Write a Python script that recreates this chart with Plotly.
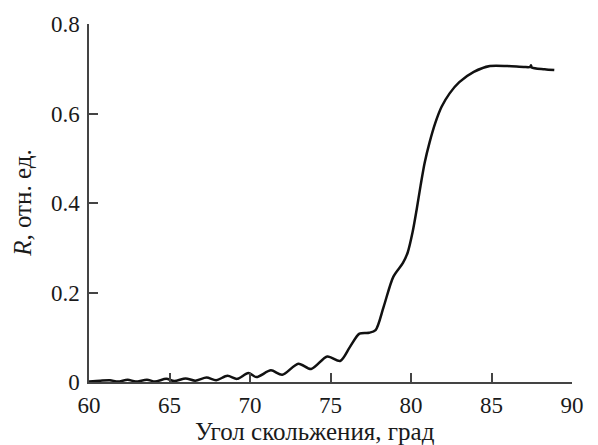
import plotly.graph_objects as go

angle = [60.0, 60.7, 61.3, 61.8, 62.4, 62.9, 63.6, 64.1, 64.8, 65.3, 66.0, 66.6, 67.3, 67.9,
         68.6, 69.2, 69.9, 70.4, 71.3, 72.0, 73.0, 73.8, 74.8, 75.6, 76.2, 76.8, 77.4, 77.8,
         78.3, 78.9, 79.5, 79.8, 80.1, 80.35, 80.6, 80.85, 81.15, 81.5, 81.9, 82.4, 83.0,
         83.9, 84.9, 86.0, 87.0, 87.4, 87.45, 87.5, 88.3, 88.9]
refl = [0.001, 0.003, 0.004, 0.001, 0.005, 0.001, 0.005, 0.001, 0.007, 0.002, 0.008, 0.003,
        0.010, 0.004, 0.014, 0.007, 0.020, 0.011, 0.026, 0.016, 0.041, 0.029, 0.057, 0.047,
        0.078, 0.108, 0.110, 0.116, 0.168, 0.235, 0.266, 0.290, 0.335, 0.385, 0.440, 0.490,
        0.535, 0.578, 0.615, 0.645, 0.670, 0.693, 0.706, 0.706, 0.704, 0.704, 0.708, 0.703,
        0.699, 0.697]

x_ticks = [60, 65, 70, 75, 80, 85, 90]
y_ticks = [0, 0.2, 0.4, 0.6, 0.8]
y_tick_text = ["0", "0.2", "0.4", "0.6", "0.8"]
x_title = "Угол скольжения, град"
y_title = "<i>R</i>, отн. ед."

fig = go.Figure()
fig.add_trace(go.Scatter(x=angle, y=refl, mode="lines",
                         line=dict(color="#111111", width=2.5, shape="spline", smoothing=0.8),
                         showlegend=False, hoverinfo="skip"))

tick_font = dict(family="Liberation Serif", size=23, color="#1a1a1a")
title_font = dict(family="Liberation Serif", size=25, color="#1a1a1a")
axis_common = dict(showgrid=False, zeroline=False, showline=True, linecolor="#444444",
                   linewidth=1.5, ticks="inside", ticklen=9, tickwidth=1.5,
                   tickcolor="#444444", tickfont=tick_font, mirror=False, automargin=False)

fig.update_layout(
    width=598, height=445,
    margin=dict(l=89, r=26, t=24, b=63),
    paper_bgcolor="white", plot_bgcolor="white",
    xaxis=dict(range=[60, 90], tickvals=x_ticks, ticklabelstandoff=2, **axis_common),
    yaxis=dict(range=[0, 0.8], tickvals=y_ticks, ticktext=y_tick_text, ticklabelstandoff=3,
               **axis_common),
    annotations=[
        dict(text=x_title, xref="paper", yref="paper", x=0.468, y=-0.138,
             xanchor="center", yanchor="middle", showarrow=False, font=title_font),
        dict(text=y_title, xref="paper", yref="paper", x=-0.139, y=0.5,
             xanchor="center", yanchor="middle", showarrow=False, font=title_font,
             textangle=-90),
    ],
)

fig.write_html("out.html")
